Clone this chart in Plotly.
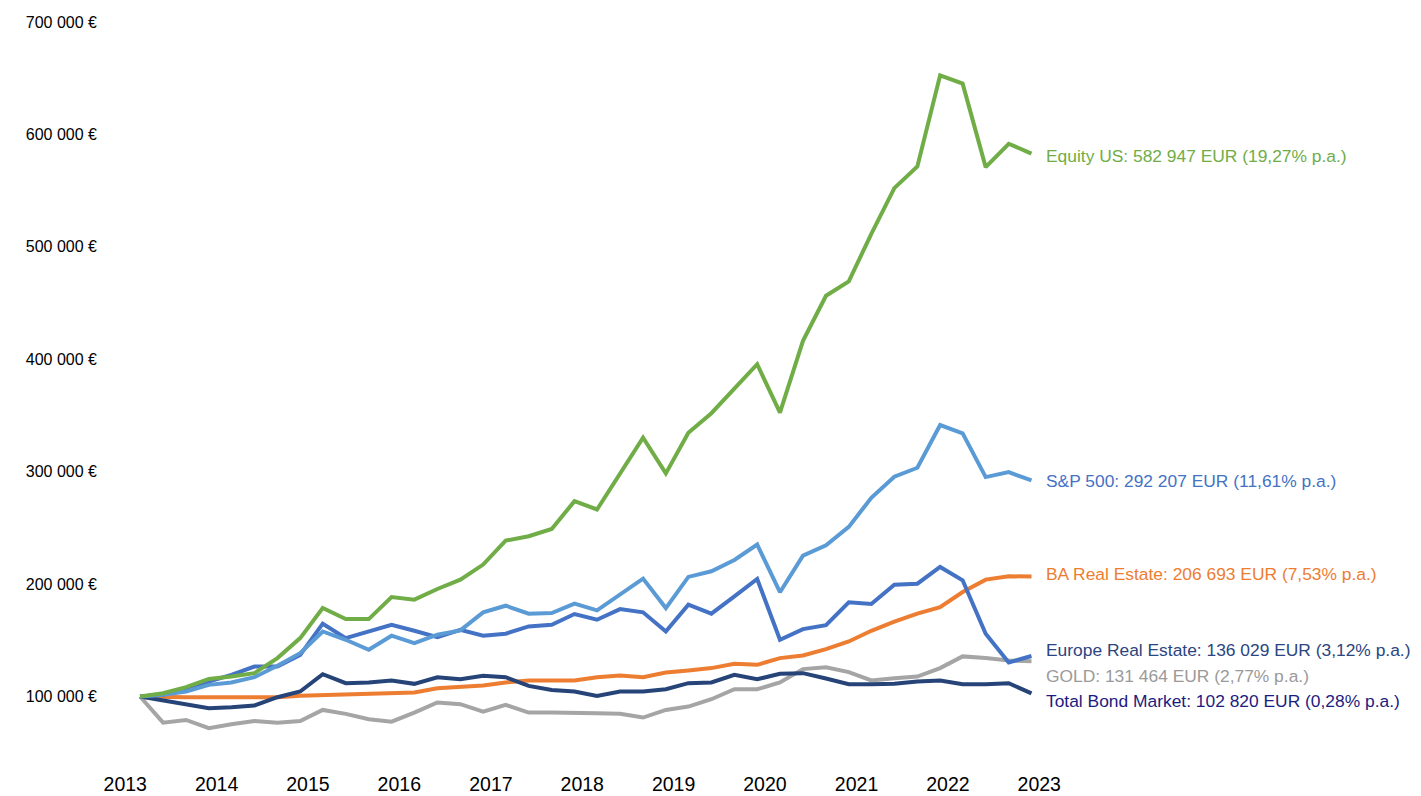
import pandas as pd
import plotly.graph_objects as go

# Quarterly observation dates
dates = pd.date_range("2013-03-01", periods=40, freq="3MS")

equity_us = [100000, 103000, 108300, 115700, 117800, 120800, 134200, 152000, 178700, 168900,
             168900, 188500, 186200, 195700, 204000, 217400, 238700, 242600, 249100, 273800,
             266400, 299100, 330300, 298500, 334700, 352000, 373900, 395600, 352500, 416400,
             456500, 469300, 511500, 552200, 571500, 652600, 645200, 570900, 591700, 582947]

sp500 = [100000, 101500, 104500, 110400, 112500, 117200, 127300, 138600, 157900, 150500,
         141600, 154100, 147500, 155000, 158800, 174900, 180800, 173700, 174300, 182600,
         176700, 190600, 204900, 178700, 206400, 211400, 221500, 235200, 192800, 225400,
         234600, 250900, 276800, 295500, 303500, 341500, 334100, 295200, 299600, 292207]

ba_real_estate = [100000, 99400, 99400, 99400, 99400, 98800, 99400, 100600, 101200, 101200,
                  101800, 103000, 103600, 107400, 108900, 109800, 112500, 114300, 114300, 114300,
                  117200, 118700, 117200, 121400, 123200, 125300, 129100, 128200, 134200, 136500,
                  142200, 149000, 158500, 166600, 173700, 179600, 193000, 204000, 207000, 206693]

europe_real_estate = [100000, 101500, 107400, 113400, 119300, 126700, 126700, 137100, 164800, 152000,
                      158300, 163900, 158500, 152900, 159400, 154100, 155900, 162400, 163900, 173400,
                      168300, 177800, 174900, 157900, 181700, 173700, 189100, 204600, 150500, 160000,
                      163500, 183800, 182300, 199500, 200400, 215300, 203400, 155900, 130300, 136029]

gold = [100000, 76800, 79200, 71800, 75300, 78300, 76800, 78300, 88100, 84600,
        79800, 77700, 85700, 94700, 93200, 86600, 92600, 85700, 85700, 85700,
        85100, 84600, 81300, 88100, 91100, 97600, 106500, 106500, 112500, 124400,
        126100, 121700, 114300, 116300, 117800, 125300, 135700, 134200, 132100, 131464]

total_bond = [100000, 96400, 92600, 89600, 90500, 92000, 99400, 104500, 119900, 111900,
              112500, 114300, 111300, 117200, 115400, 118400, 117200, 109500, 105900, 104500,
              100600, 104500, 104500, 106500, 111900, 112500, 119300, 115400, 120200, 120800,
              116000, 111000, 111000, 111300, 113400, 114300, 111000, 111000, 111900, 102820]

series_names = ["Equity US", "S&P 500", "BA Real Estate", "Europe Real Estate", "GOLD", "Total Bond Market"]
series_values = [equity_us, sp500, ba_real_estate, europe_real_estate, gold, total_bond]
line_colors = ["#70AD47", "#5B9BD5", "#ED7D31", "#4472C4", "#A5A5A5", "#264478"]
label_colors = ["#70AD47", "#4472C4", "#ED7D31", "#2B4580", "#9A9A9A", "#1C1C80"]
label_texts = [
    "Equity US: 582 947 EUR (19,27% p.a.)",
    "S&P 500: 292 207 EUR (11,61% p.a.)",
    "BA Real Estate: 206 693 EUR (7,53% p.a.)",
    "Europe Real Estate: 136 029 EUR (3,12% p.a.)",
    "GOLD: 131 464 EUR (2,77% p.a.)",
    "Total Bond Market: 102 820 EUR (0,28% p.a.)",
]
label_y = [581000, 292000, 209000, 141500, 118500, 96300]

y_tickvals = [100000, 200000, 300000, 400000, 500000, 600000, 700000]
y_ticktext = ["100 000 €", "200 000 €", "300 000 €", "400 000 €", "500 000 €", "600 000 €", "700 000 €"]
x_tickvals = [f"{y}-01-01" for y in range(2013, 2024)]
x_ticktext = [str(y) for y in range(2013, 2024)]

fig = go.Figure()
draw_order = [4, 2, 5, 3, 1, 0]
for i in draw_order:
    fig.add_trace(go.Scatter(
        x=dates, y=series_values[i], mode="lines", name=series_names[i],
        line=dict(color=line_colors[i], width=4), showlegend=False,
    ))

for txt, yv, col in zip(label_texts, label_y, label_colors):
    fig.add_annotation(
        x=0.9895, xref="paper", y=yv, yref="y", text=txt, showarrow=False,
        xanchor="left", yanchor="middle", font=dict(color=col, size=17.4),
    )

# the page body adds an 8px margin, so the figure is sized 8px smaller
fig.update_layout(
    width=1413, height=788,
    margin=dict(l=102, r=367, t=14, b=32),
    paper_bgcolor="white", plot_bgcolor="white",
    font=dict(family="Liberation Sans, Arial, sans-serif", color="#000000"),
    xaxis=dict(
        type="date", range=["2012-11-01", "2023-03-01"], automargin=False,
        tickvals=x_tickvals, ticktext=x_ticktext,
        showgrid=False, zeroline=False, showline=False,
        tickfont=dict(size=19.5, color="#000000"), ticklabelstandoff=6,
    ),
    yaxis=dict(
        range=[40000, 700000], automargin=False,
        tickvals=y_tickvals, ticktext=y_ticktext,
        showgrid=False, zeroline=False, showline=False,
        tickfont=dict(size=16, color="#000000"), ticklabelstandoff=12,
    ),
)

fig.write_html("out.html")
